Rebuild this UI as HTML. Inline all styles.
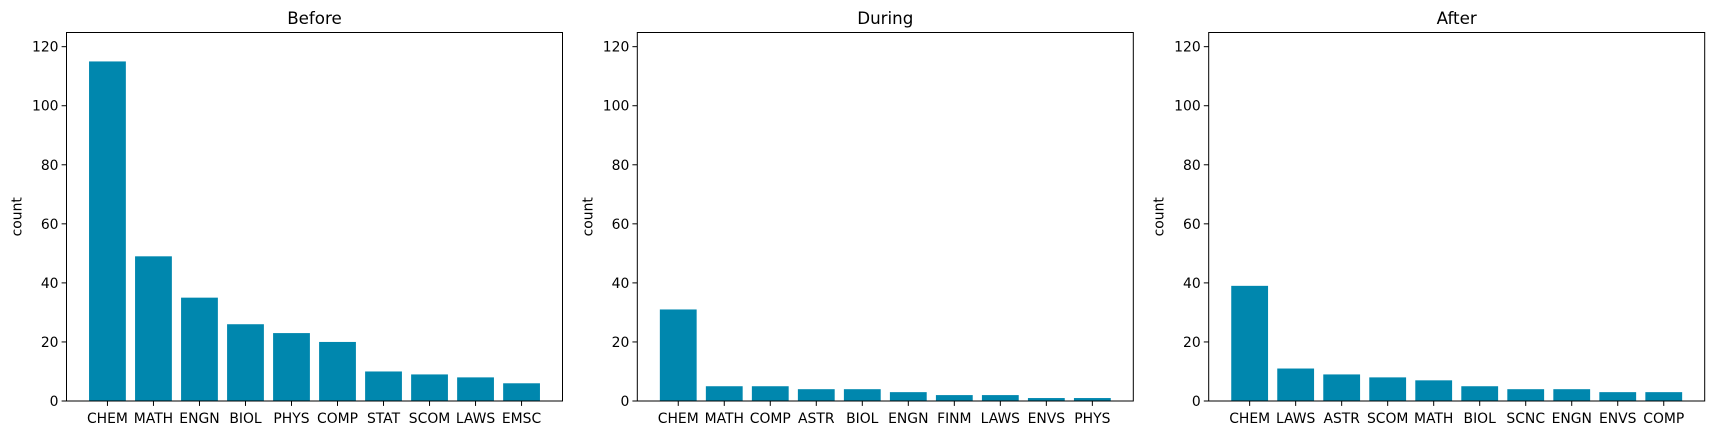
<!DOCTYPE html>
<html><head><meta charset="utf-8"><style>
html,body{margin:0;padding:0;background:#fff;}
svg text{font-family:"DejaVu Sans","Liberation Sans",sans-serif;fill:#000;}
</style></head><body>
<svg id="chart" width="1713" height="435" xmlns="http://www.w3.org/2000/svg"></svg>
<script>
const titles = ["Before", "During", "After"];
const beforeCats = ["CHEM","MATH","ENGN","BIOL","PHYS","COMP","STAT","SCOM","LAWS","EMSC"];
const beforeVals = [115,49,35,26,23,20,10,9,8,6];
const duringCats = ["CHEM","MATH","COMP","ASTR","BIOL","ENGN","FINM","LAWS","ENVS","PHYS"];
const duringVals = [31,5,5,4,4,3,2,2,1,1];
const afterCats = ["CHEM","LAWS","ASTR","SCOM","MATH","BIOL","SCNC","ENGN","ENVS","COMP"];
const afterVals = [39,11,9,8,7,5,4,4,3,3];
const yTicks = [0,20,40,60,80,100,120];
const yMax = 124.8;

const NS = "http://www.w3.org/2000/svg";
const svg = document.getElementById("chart");
function mk(tag, attrs, parent){const e=document.createElementNS(NS,tag);for(const k in attrs)e.setAttribute(k,attrs[k]);(parent||svg).appendChild(e);return e;}

const panels = [[beforeCats,beforeVals],[duringCats,duringVals],[afterCats,afterVals]];
const lefts = [66.5, 637.3, 1208.7];
const W = 496, axTop = 32.5, axBottom = 401;
panels.forEach((p, i) => {
  const cats = p[0], vals = p[1];
  const L = lefts[i];
  const g = mk("g", {});
  
  
  const x0 = -0.89, x1 = cats.length - 1 + 0.89;
  const xs = v => L + (v - x0) / (x1 - x0) * W;
  const ys = v => axBottom - v / yMax * (axBottom - axTop);
  vals.forEach((v, j) => {
    const r = mk("rect", {x: xs(j - 0.4), y: ys(v), width: xs(j + 0.4) - xs(j - 0.4), height: axBottom - ys(v), fill: "#0087ae"}, g);
    
    
    mk("line", {x1: xs(j), x2: xs(j), y1: axBottom, y2: axBottom + 4.9, stroke: "#000", "stroke-width": 1}, g);
    const t = mk("text", {x: xs(j), y: axBottom + 22, "text-anchor": "middle", "font-size": "13.9"}, g);
    t.textContent = cats[j];
    
    
  });
  yTicks.forEach(v => {
    mk("line", {x1: L - 4.9, x2: L, y1: ys(v), y2: ys(v), stroke: "#000", "stroke-width": 1}, g);
    const t = mk("text", {x: L - 8, y: ys(v) + 5, "text-anchor": "end", "font-size": "13.9"}, g);
    t.textContent = v;
    
    
  });
  const fr = mk("rect", {x: L, y: axTop, width: W, height: axBottom - axTop, fill: "none", stroke: "#000", "stroke-width": 1}, g);
  
  
  const tt = mk("text", {x: L + W / 2, y: 24, "text-anchor": "middle", "font-size": "16.7"}, g);
  tt.textContent = titles[i];
  
  
  const yl = mk("text", {x: 0, y: 0, "text-anchor": "middle", "font-size": "13.9", transform: "translate(" + (L - 45) + "," + ((axTop + axBottom) / 2) + ") rotate(-90)"}, g);
  yl.textContent = "count";
  
  
});
</script>
</body></html>
